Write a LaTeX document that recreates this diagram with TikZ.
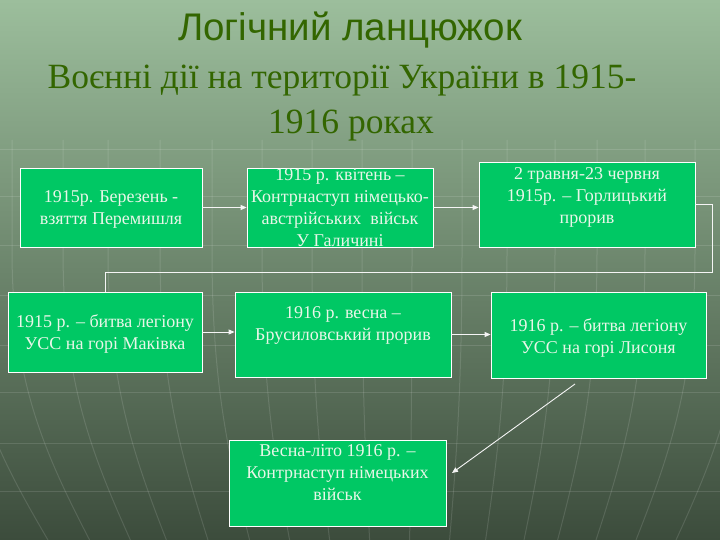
\documentclass[tikz,border=0pt]{standalone}
\usepackage{fontspec}
\setmainfont{Liberation Serif}
\newfontfamily\headfont{Liberation Sans}
\usetikzlibrary{arrows.meta}
\definecolor{bgtop}{RGB}{156,190,156}
\definecolor{bgmid}{RGB}{112,136,112}
\definecolor{bgbot}{RGB}{60,76,60}
\definecolor{boxgreen}{RGB}{0,200,100}
\definecolor{headgreen}{RGB}{51,102,0}
\definecolor{boxtext}{RGB}{232,246,232}

\begin{document}
\begin{tikzpicture}[
  x=1pt, y=-1pt,
  eventbox/.style={draw=white, line width=0.8pt, fill=boxgreen, inner sep=0pt},
  eventtext/.style={text=boxtext, align=center, inner sep=0pt,
    font=\fontsize{18}{22}\selectfont},
  link/.style={draw=white!92!gray, line width=0.9pt,
    -{Triangle[length=6pt,width=5pt]}},
  loopline/.style={draw=white!92!gray, line width=0.9pt},
  deco/.style={white, opacity=0.12, line width=1pt},
]
\useasboundingbox (0,0) rectangle (720,540);
\shade[top color=bgtop, middle color=bgmid, bottom color=bgbot]
  (0,0) rectangle (720,540);
\begin{scope}
\clip (0,0) rectangle (720,540);
\foreach \y in {150,197,245,295,345,392,443,491}
  \draw[deco] (0,\y) -- (720,\y);
\foreach \x in {-40,12,63,108,160,212,262,312,362,412,462,507,555,597,645,695,745}
  \draw[deco] (\x,140) -- (\x,250)
    .. controls (\x,380) and ({\x+0.08*(400-\x)},450) .. ({\x+0.2*(400-\x)},540);
\end{scope}

\node[text=headgreen, font=\headfont\fontsize{38.5}{44}\selectfont,
  anchor=base, inner sep=0pt] (title) at (350,41) {Логічний ланцюжок};
\node[text=headgreen, font=\fontsize{35.5}{42}\selectfont,
  anchor=base, inner sep=0pt] (sub1) at (342,89)
  {Воєнні дії на території України в 1915-};
\node[text=headgreen, font=\fontsize{35.5}{42}\selectfont,
  anchor=base, inner sep=0pt] (sub2) at (351,134) {1916 роках};

\node[eventbox, minimum width=182, minimum height=79] (march) at (111,207.5) {};
\node[eventbox, minimum width=186, minimum height=79] (april) at (340,207.5) {};
\node[eventbox, minimum width=216, minimum height=85] (gorlice) at (587,204.5) {};
\node[eventbox, minimum width=194, minimum height=80] (makivka) at (105,332) {};
\node[eventbox, minimum width=216, minimum height=85] (brusilov) at (343,334.5) {};
\node[eventbox, minimum width=215, minimum height=86] (lysonia) at (598.5,335) {};
\node[eventbox, minimum width=217, minimum height=86] (counter) at (337.5,483) {};

\node[eventtext] (march-t) at ([yshift=-2pt]march) {1915р. Березень -\\взяття Перемишля};
\node[eventtext] (april-t) at (april) {1915 р. квітень –\\Контрнаступ німецько-\\австрійських\ \ військ\\У Галичині};
\node[eventtext] (gorlice-t) at ([yshift=7.5pt]gorlice) {2 травня-23 червня\\1915р. – Горлицький\\прорив};
\node[eventtext] (makivka-t) at ([yshift=-1.5pt]makivka) {1915 р. – битва легіону\\УСС на горі Маківка};
\node[eventtext] (brusilov-t) at ([yshift=9pt]brusilov) {1916 р. весна –\\Брусиловський прорив};
\node[eventtext] (lysonia-t) at ([yshift=-3pt]lysonia) {1916 р. – битва легіону\\УСС на горі Лисоня};
\node[eventtext] (counter-t) at ([yshift=10pt]counter) {Весна-літо 1916 р. –\\Контрнаступ німецьких\\військ};

\coordinate (bend) at (712,272);
\coordinate (diag-start) at (575,384);
\coordinate (diag-end) at (452,473);

\draw[link] (march) -- (april);
\draw[link] (april.east) -- (april.east -| gorlice.west);
\draw[loopline] (gorlice.east) -| (bend) -| (makivka.north);
\draw[link] (makivka.east) -- (makivka.east -| brusilov.west);
\draw[link] (brusilov.east) -- (brusilov.east -| lysonia.west);
\draw[link] (diag-start) -- (diag-end);
\end{tikzpicture}
\end{document}
